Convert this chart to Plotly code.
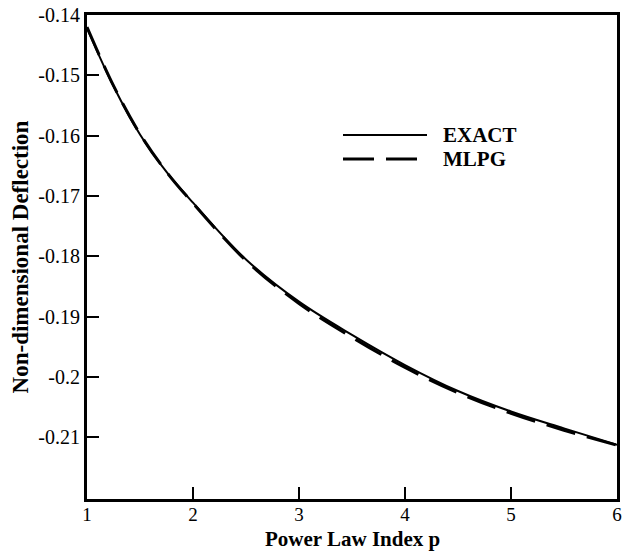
import plotly.graph_objects as go

p_index = [1, 1.25, 1.5, 1.75, 2, 2.5, 3, 3.5, 4, 4.5, 5, 5.5, 6]
exact = [-0.1422, -0.1518, -0.1598, -0.1660, -0.1711, -0.1805, -0.1875,
         -0.1930, -0.1980, -0.2023, -0.2057, -0.2085, -0.2112]
mlpg = [-0.1420, -0.1517, -0.1597, -0.1660, -0.1712, -0.1807, -0.1878,
        -0.1934, -0.1984, -0.2026, -0.2060, -0.2088, -0.2113]

x_ticks = [1, 2, 3, 4, 5, 6]
x_ticktext = ["1", "2", "3", "4", "5", "6"]
y_ticks = [-0.14, -0.15, -0.16, -0.17, -0.18, -0.19, -0.2, -0.21]
y_ticktext = ["-0.14", "-0.15", "-0.16", "-0.17", "-0.18", "-0.19", "-0.2", "-0.21"]

FONT = "Liberation Serif"

fig = go.Figure()
fig.add_trace(go.Scatter(x=p_index, y=exact, mode="lines", name="EXACT",
                         line=dict(color="black", width=2, shape="spline")))
fig.add_trace(go.Scatter(x=p_index, y=mlpg, mode="lines", name="MLPG",
                         line=dict(color="black", width=3, shape="spline", dash="30px,12px")))

W, H = 626, 551
L, R, T, B = 87, 9, 15, 52
pw, ph = W - L - R, H - T - B

def px(x):
    return (x - L) / pw

def py(y):
    return 1 - (y - T) / ph

# legend drawn manually
fig.add_shape(type="line", xref="paper", yref="paper",
              x0=px(343), x1=px(427), y0=py(135), y1=py(135),
              line=dict(color="black", width=2))
fig.add_shape(type="line", xref="paper", yref="paper",
              x0=px(343), x1=px(418), y0=py(159), y1=py(159),
              line=dict(color="black", width=3, dash="31px,12px"))
fig.add_annotation(xref="paper", yref="paper", x=px(441), y=py(135), text="<b>EXACT</b>",
                   showarrow=False, xanchor="left", yanchor="middle",
                   font=dict(family=FONT, size=21, color="black"))
fig.add_annotation(xref="paper", yref="paper", x=px(441), y=py(159), text="<b>MLPG</b>",
                   showarrow=False, xanchor="left", yanchor="middle",
                   font=dict(family=FONT, size=21, color="black"))
# x-axis title
fig.add_annotation(xref="paper", yref="paper", x=px(352), y=py(539),
                   text="<b>Power Law Index p</b>", showarrow=False,
                   xanchor="center", yanchor="middle",
                   font=dict(family=FONT, size=21, color="black"))

fig.update_layout(
    width=W, height=H,
    margin=dict(l=L, r=R, t=T, b=B),
    paper_bgcolor="white", plot_bgcolor="white",
    showlegend=False,
    font=dict(family=FONT, size=20, color="black"),
    xaxis=dict(range=[1, 6], tickvals=x_ticks, ticktext=x_ticktext,
               showgrid=False, zeroline=False, automargin=False,
               showline=True, linecolor="black", linewidth=3, mirror=True,
               ticks="inside", ticklen=12, tickwidth=2, tickcolor="black",
               ticklabelstandoff=-4,
               tickfont=dict(family=FONT, size=19)),
    yaxis=dict(range=[-0.2202, -0.14], tickvals=y_ticks, ticktext=y_ticktext,
               showgrid=False, zeroline=False, automargin=False,
               showline=True, linecolor="black", linewidth=3, mirror=True,
               ticks="inside", ticklen=12, tickwidth=2, tickcolor="black",
               tickfont=dict(family=FONT, size=20),
               title=dict(text="<b>Non-dimensional Deflection</b>", standoff=4,
                          font=dict(family=FONT, size=23))),
)

fig.write_html("out.html", config={"displayModeBar": False},
               post_script="document.body.style.margin='0px';")
